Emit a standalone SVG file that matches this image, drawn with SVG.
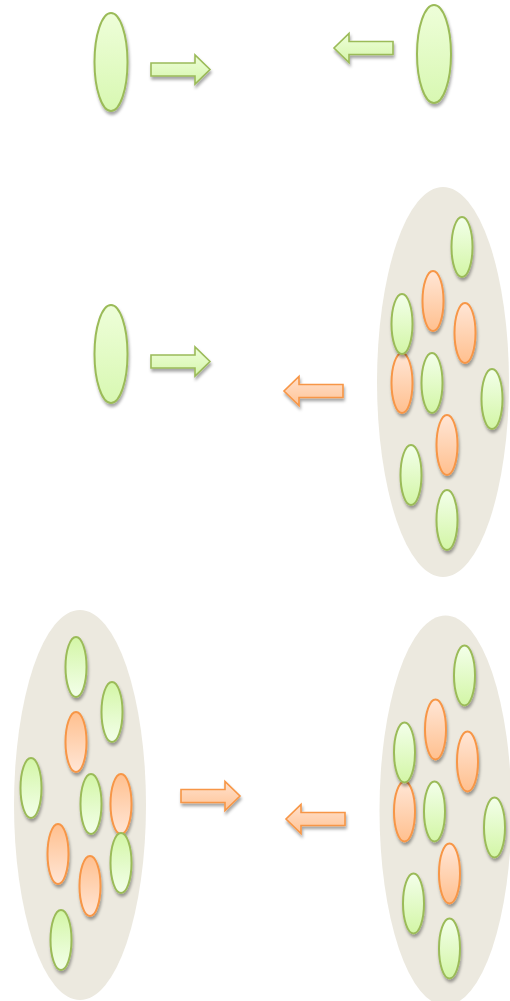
<svg xmlns="http://www.w3.org/2000/svg" xmlns:xlink="http://www.w3.org/1999/xlink" width="510" height="1001" viewBox="0 0 510 1001">
<defs>
<linearGradient id="gG" x1="0" y1="0" x2="0" y2="1"><stop offset="0" stop-color="#f3ffea"/><stop offset="1" stop-color="#d3f6a6"/></linearGradient>
<linearGradient id="gO" x1="0" y1="0" x2="0" y2="1"><stop offset="0" stop-color="#ffe6d6"/><stop offset="1" stop-color="#ffc08f"/></linearGradient>
<linearGradient id="gGr" x1="0" y1="1" x2="0" y2="0"><stop offset="0" stop-color="#f3ffea"/><stop offset="1" stop-color="#d3f6a6"/></linearGradient>
<linearGradient id="gOr" x1="0" y1="1" x2="0" y2="0"><stop offset="0" stop-color="#ffe6d6"/><stop offset="1" stop-color="#ffc08f"/></linearGradient>
<linearGradient id="gBig" x1="0" y1="0" x2="0" y2="1"><stop offset="0" stop-color="#eefed9"/><stop offset="1" stop-color="#d8f8b2"/></linearGradient>
<linearGradient id="gAG" x1="0" y1="0" x2="0" y2="1"><stop offset="0" stop-color="#eefed9"/><stop offset="1" stop-color="#d6f6ac"/></linearGradient>
<linearGradient id="gAO" x1="0" y1="0" x2="0" y2="1"><stop offset="0" stop-color="#ffe0cc"/><stop offset="1" stop-color="#ffc496"/></linearGradient>
<filter id="sh" x="-50%" y="-30%" width="200%" height="160%"><feDropShadow dx="1" dy="3" stdDeviation="1.8" flood-color="#000" flood-opacity="0.35"/></filter>
<path id="arrR" d="M0,-6.5 H44 V-14.5 L59,0 L44,14.5 V6.5 H0 Z"/>
<path id="arrL" d="M0,-6.5 H-44 V-14.5 L-59,0 L-44,14.5 V6.5 H0 Z"/>
<g id="cluster">
<ellipse cx="0" cy="0" rx="66" ry="195" fill="#ece9df"/>
<ellipse class="o" cx="-10" cy="-81" rx="10.5" ry="30"/>
<ellipse class="o" cx="22" cy="-49" rx="10.5" ry="30"/>
<ellipse class="o" cx="-41" cy="1" rx="10.5" ry="30"/>
<ellipse class="o" cx="4" cy="63" rx="10.5" ry="30"/>
<ellipse class="g" cx="19" cy="-135" rx="10.5" ry="30"/>
<ellipse class="g" cx="-41" cy="-58" rx="10.5" ry="30"/>
<ellipse class="g" cx="-11" cy="1" rx="10.5" ry="30"/>
<ellipse class="g" cx="49" cy="17" rx="10.5" ry="30"/>
<ellipse class="g" cx="-32" cy="93" rx="10.5" ry="30"/>
<ellipse class="g" cx="4" cy="138" rx="10.5" ry="30"/>
</g>
</defs>
<style>
.g{fill:url(#gG);stroke:#9bbb59;stroke-width:2;filter:url(#sh)}
.o{fill:url(#gO);stroke:#f79646;stroke-width:2;filter:url(#sh)}
.gr{fill:url(#gGr);stroke:#9bbb59;stroke-width:2;filter:url(#sh)}
.or{fill:url(#gOr);stroke:#f79646;stroke-width:2;filter:url(#sh)}
.big{fill:url(#gBig);stroke:#9bbb59;stroke-width:2;filter:url(#sh)}
.ag{fill:url(#gAG);stroke:#9bbb59;stroke-width:1.6;filter:url(#sh)}
.ao{fill:url(#gAO);stroke:#f79646;stroke-width:1.6;filter:url(#sh)}
</style>
<rect width="510" height="1001" fill="#ffffff"/>
<g id="node-top-left"><ellipse class="big" cx="111" cy="62" rx="16.5" ry="49"/></g>
<g id="node-top-right"><ellipse class="big" cx="434" cy="54" rx="17" ry="49"/></g>
<g id="node-mid-left"><ellipse class="big" cx="111" cy="354" rx="16.5" ry="49"/></g>
<g id="node-mid-right"><use xlink:href="#cluster" href="#cluster" transform="translate(443,382)"/></g>
<g id="node-bot-left">
<ellipse cx="80" cy="805" rx="66" ry="195" fill="#ece9df"/>
<ellipse class="or" cx="90" cy="886" rx="10.5" ry="30"/>
<ellipse class="or" cx="58" cy="854" rx="10.5" ry="30"/>
<ellipse class="or" cx="121" cy="804" rx="10.5" ry="30"/>
<ellipse class="or" cx="76" cy="742" rx="10.5" ry="30"/>
<ellipse class="gr" cx="61" cy="940" rx="10.5" ry="30"/>
<ellipse class="gr" cx="121" cy="863" rx="10.5" ry="30"/>
<ellipse class="gr" cx="91" cy="804" rx="10.5" ry="30"/>
<ellipse class="gr" cx="31" cy="788" rx="10.5" ry="30"/>
<ellipse class="gr" cx="112" cy="712" rx="10.5" ry="30"/>
<ellipse class="gr" cx="76" cy="667" rx="10.5" ry="30"/>
</g>
<g id="node-bot-right"><use xlink:href="#cluster" href="#cluster" transform="translate(445.5,810.5)"/></g>
<g id="connectors">
<use class="ag" xlink:href="#arrR" href="#arrR" transform="translate(151,69.5)"/>
<use class="ag" xlink:href="#arrL" href="#arrL" transform="translate(393,48)"/>
<use class="ag" xlink:href="#arrR" href="#arrR" transform="translate(151,361.5)"/>
<use class="ao" xlink:href="#arrL" href="#arrL" transform="translate(343,391)"/>
<use class="ao" xlink:href="#arrR" href="#arrR" transform="translate(181,796)"/>
<use class="ao" xlink:href="#arrL" href="#arrL" transform="translate(345,819)"/>
</g>
</svg>
